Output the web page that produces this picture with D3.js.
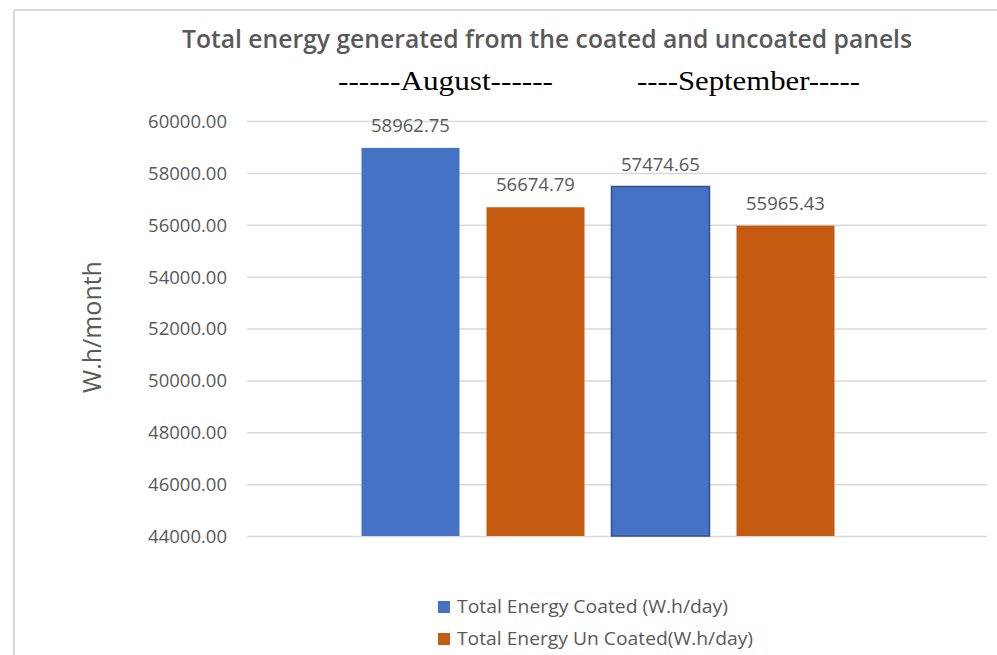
<!DOCTYPE html>
<html>
<head>
<meta charset="utf-8">
<script src="https://cdn.jsdelivr.net/npm/d3@7"></script>
<style>
  html, body { margin: 0; padding: 0; background: #fff; }
  svg { display: block; }
</style>
</head>
<body>
<svg id="chart" width="997" height="655"></svg>
<script>
// Monthly totals for coated vs uncoated panels
const months = ["August", "September"];
const monthLabels = ["------August------", "----September-----"];
const seriesNames = ["Total Energy Coated (W.h/day)", "Total Energy Un Coated(W.h/day)"];
const coated = [58962.75, 57474.65];
const uncoated = [56674.79, 55965.43];
const yTicks = [44000, 46000, 48000, 50000, 52000, 54000, 56000, 58000, 60000];
const colors = ["#4472C4", "#C55A11"];

const svg = d3.select("#chart");
const textColor = "#595959";
const font = "'Open Sans', 'Noto Sans', sans-serif";

// Outer frame (top and left edges)
svg.append("line").attr("x1", 14).attr("x2", 997).attr("y1", 10).attr("y2", 10)
  .attr("stroke", "#d9d9d9").attr("stroke-width", 2);
svg.append("line").attr("x1", 14).attr("x2", 14).attr("y1", 10).attr("y2", 655)
  .attr("stroke", "#d9d9d9").attr("stroke-width", 2);

// Scales
const y = d3.scaleLinear().domain([44000, 60000]).range([536, 121]);
const x0 = d3.scaleBand().domain(months).range([348, 848]).padding(0);
const x1 = d3.scaleBand().domain(seriesNames).range([0, x0.bandwidth()])
  .paddingInner(0.216).paddingOuter(0.108);

// Gridlines + tick labels
const yAxis = d3.axisLeft(y).tickValues(yTicks).tickFormat(d3.format(".2f"))
  .tickSize(-(987 - 247)).tickPadding(20);
const gy = svg.append("g").attr("transform", "translate(247,0)").call(yAxis);
gy.select(".domain").remove();
gy.selectAll(".tick line").attr("stroke", "#d9d9d9").attr("stroke-width", 1.5);
gy.selectAll(".tick text").attr("fill", textColor).attr("font-family", font)
  .attr("font-size", 18.5).attr("dy", "0.35em");

// Y axis title
svg.append("text")
  .attr("transform", "translate(101,327) rotate(-90)")
  .attr("text-anchor", "middle")
  .attr("fill", textColor).attr("font-family", font).attr("font-size", 25)
  .text("W.h/month");

// Bars
const rows = months.map((m, i) => ({ month: m, values: [coated[i], uncoated[i]] }));
const groups = svg.append("g").selectAll("g").data(rows).join("g")
  .attr("transform", d => `translate(${x0(d.month)},0)`);

groups.selectAll("rect")
  .data((d, mi) => d.values.map((v, si) => ({ v, si, mi })))
  .join("rect")
  .attr("x", d => x1(seriesNames[d.si]))
  .attr("width", x1.bandwidth())
  .attr("y", d => y(d.v))
  .attr("height", d => y(44000) - y(d.v))
  .attr("fill", d => colors[d.si])
  .attr("stroke", d => (d.si === 0 && d.mi === 1) ? "#2F528F" : "none")
  .attr("stroke-width", 1.5);

// Value labels
groups.selectAll("text.val")
  .data(d => d.values.map((v, si) => ({ v, si })))
  .join("text")
  .attr("class", "val")
  .attr("x", d => x1(seriesNames[d.si]) + x1.bandwidth() / 2)
  .attr("y", d => y(d.v) - 16)
  .attr("text-anchor", "middle")
  .attr("fill", textColor).attr("font-family", font).attr("font-size", 18.5)
  .text(d => d3.format(".2f")(d.v));

// Title
svg.append("text")
  .attr("x", 182).attr("y", 48)
  .attr("fill", textColor).attr("font-family", font).attr("font-weight", 600)
  .attr("font-size", 25)
  .attr("textLength", 730).attr("lengthAdjust", "spacingAndGlyphs")
  .text("Total energy generated from the coated and uncoated panels");

// Month headings
const monthPos = [[338, 215], [637, 223]];
svg.append("g").selectAll("text").data(monthLabels).join("text")
  .attr("x", (d, i) => monthPos[i][0]).attr("y", 90)
  .attr("fill", "#000").attr("font-family", "'Liberation Serif', 'DejaVu Serif', serif")
  .attr("font-size", 27)
  .attr("textLength", (d, i) => monthPos[i][1]).attr("lengthAdjust", "spacingAndGlyphs")
  .text(d => d);

// Legend
const legendWidths = [271, 296];
const legend = svg.append("g").selectAll("g").data(seriesNames).join("g")
  .attr("transform", (d, i) => `translate(438,${601 + i * 32})`);
legend.append("rect").attr("width", 12).attr("height", 12)
  .attr("fill", (d, i) => colors[i]);
legend.append("text").attr("x", 19).attr("y", 12)
  .attr("fill", textColor).attr("font-family", font).attr("font-size", 18)
  .attr("textLength", (d, i) => legendWidths[i]).attr("lengthAdjust", "spacingAndGlyphs")
  .text(d => d);
</script>
</body>
</html>
